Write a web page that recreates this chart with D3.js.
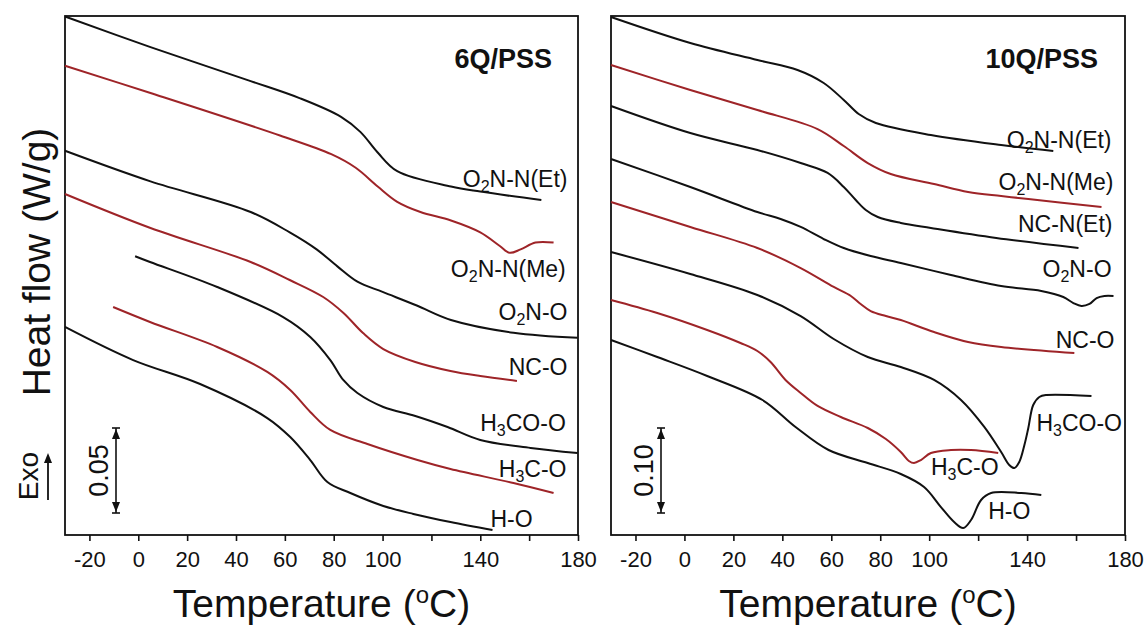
<!DOCTYPE html>
<html>
<head>
<meta charset="utf-8">
<script src="https://cdn.jsdelivr.net/npm/d3@7"></script>
<style>
  body { margin: 0; background: #fff; }
</style>
</head>
<body>
<script>
const font = "'Liberation Sans', Arial, sans-serif";
const W = 1146, H = 626;
const plotTop = 16, plotBottom = 535;

// x axis (temperature, degC)
const tickVals = [-20, 0, 20, 40, 60, 80, 100, 120, 140, 160, 180];
const tickText = ["-20", "0", "20", "40", "60", "80", "100", "", "140", "", "180"];

// heat flow curves, [T (degC), heat flow (mW/g, offset stacked as in figure)]
// 6Q/PSS
const q6_O2N_NEt = [[-30,305],[5,287],[46,267],[66,257],[83,246],[91,237],[98,225],[106,214],[128,205],[140,202],[165,197]];
const q6_O2N_NMe = [[-30,276],[5,260],[58,235],[79,224],[89,216],[98,205],[106,196],[115.5,190],[128,185],[140,178],[148,170],[152,166],[156.5,168],[162.6,172],[170,172]];
const q6_O2N_O = [[-30,226],[5,208],[46,190],[62,178],[73,168],[81.5,158],[89.7,149],[100,143],[114,135],[128,126.5],[153.6,119],[179.8,116]];
const q6_NC_O = [[-30,200.6],[5,180.6],[46,160.6],[62,150],[75.7,140],[84,130.6],[92,118.8],[100.3,109.4],[113.4,101.8],[127.8,96.5],[140,93.5],[155,90.6]];
const q6_H3CO_O = [[-1.3,164],[4.8,160.6],[32.3,145.9],[59.3,128.2],[70.4,116.5],[78.6,102.9],[83.9,91.2],[89.7,83.5],[100.3,75.3],[113.4,70],[126.6,63.5],[140,55.9],[160.6,51.2],[179.8,48.2]];
const q6_H3C_O = [[-10.3,134.1],[4.8,125.3],[32.3,110.6],[52.8,95.9],[62.2,85.3],[70.4,72.4],[78.6,61.8],[93.8,53.5],[114.3,44.1],[127.8,38.8],[153.6,30.6],[170,24.7]];
const q6_H_O = [[-30,122.4],[-2.1,102.9],[25.3,88.8],[52.8,68.8],[62.2,57.6],[70.4,44.1],[77.4,31.2],[86.8,24.7],[100.3,17.1],[112.6,12.4],[127.8,7.6],[145,2.9]];

// 10Q/PSS
const q10_O2N_NEt = [[-30,609.4],[2.4,578.8],[29.8,558.8],[46.2,547.1],[56.9,531.8],[65.1,511.8],[71.2,495.3],[78.2,484.7],[100.7,470.6],[129.4,458.8],[150.7,451.8]];
const q10_O2N_NMe = [[-30,552.9],[2.4,523.5],[29.8,500],[54.4,477.6],[65.1,457.6],[74.9,437.6],[84.3,424.7],[102,412.9],[115.9,403.5],[129.4,398.8],[140.5,395.3],[170.4,385.9]];
const q10_NC_NEt = [[-30,504.7],[2.4,472.9],[29.8,452.9],[47.5,437.6],[58.5,425.9],[65.1,409.4],[70,394.1],[74.1,382.4],[79,374.1],[88.4,367.1],[100.7,361.2],[127.4,349.4],[161,337.6]];
const q10_O2N_O = [[-30,442.4],[2.4,409.4],[29.8,380],[39.3,371.8],[47.5,362.4],[56.9,348.2],[65.1,337.6],[76.1,328.2],[88.4,320],[108.9,305.9],[129.4,292.9],[145.8,287.1],[154.8,280],[158.9,272.9],[162.2,269.4],[165.5,271.8],[168.4,278.8],[171.6,281.2],[175.3,281.2]];
const q10_NC_O = [[-30,391.8],[2.4,362.4],[29.8,337.6],[47.5,314.1],[61,291.8],[68,281.2],[72,271.8],[76.1,263.5],[82.3,257.6],[88.4,252.9],[102,238.8],[115.9,227.1],[129.4,221.2],[159.3,214.1]];
const q10_H3CO_O = [[-30,332.9],[2.4,307.1],[29.8,282.4],[47.5,257.6],[61,230.6],[74.9,209.4],[88.4,197.6],[102,182.4],[113,158.8],[122.5,127.1],[129.4,97.6],[132.7,82.4],[134.8,78.8],[136.8,85.9],[138.9,105.9],[140.5,125.9],[142.5,152.9],[145,162.4],[147.9,164.7],[166.3,163.5]];
const q10_H3C_O = [[-30,276.5],[-11.1,261.2],[9.3,241.2],[22.9,225.9],[29.8,216.5],[35.2,203.5],[41.3,182.4],[47.5,167.1],[54.4,151.8],[63.9,138.8],[74.9,125.9],[82.3,112.9],[88.4,97.6],[91.7,87.1],[93.8,84.7],[96.6,88.2],[100.7,96.5],[108.9,100],[117.1,100],[128.2,96.5]];
const q10_H_O = [[-30,229.4],[-11.1,209.4],[9.3,187.1],[31.9,158.8],[45.4,127.1],[58.9,100],[74.9,84.7],[88.4,71.8],[97.9,56.5],[104.8,32.9],[110.2,15.3],[113.9,8.2],[117.1,17.6],[121.2,41.2],[125.3,49.4],[137.6,49.4],[145.8,47.1]];

// curve labels ("_" marks a subscript digit), placed at [T, heat flow]
const q6Names = ["O_2N-N(Et)", "O_2N-N(Me)", "O_2N-O", "NC-O", "H_3CO-O", "H_3C-O", "H-O"];
const q6LabelAt = [[175.7,205],[175,152],[175.7,126.5],[175.7,94],[175,61],[175.3,34],[161.4,4.7]];
const q6Anchor = ["end", "end", "end", "end", "end", "end", "end"];

const q10Names = ["O_2N-N(Et)", "O_2N-N(Me)", "NC-N(Et)", "O_2N-O", "NC-O", "H_3CO-O", "H_3C-O", "H-O"];
const q10LabelAt = [[174.5,455.3],[175.3,405.9],[174.9,356.5],[174.5,303.5],[175.7,220],[143.8,122.4],[100.7,70.6],[124.1,18.8]];
const q10Anchor = ["end", "end", "end", "end", "end", "start", "start", "start"];

const black = "#111", red = "#9e2428";

const svg = d3.select("body")
  .append("svg")
  .attr("width", W)
  .attr("height", H)
  .style("font-family", font);

const panels = [
  { title: "6Q/PSS", x0: 65, x1: 578, titleX: 552, hfMax: 519 / 1.7,
    curves: [q6_O2N_NEt, q6_O2N_NMe, q6_O2N_O, q6_NC_O, q6_H3CO_O, q6_H3C_O, q6_H_O],
    colors: [black, red, black, red, black, red, black],
    names: q6Names, labelAt: q6LabelAt, anchor: q6Anchor,
    bar: 50, barText: "0.05", barX: 116, exo: true },
  { title: "10Q/PSS", x0: 611, x1: 1125, titleX: 1098, hfMax: 519 / 0.85,
    curves: [q10_O2N_NEt, q10_O2N_NMe, q10_NC_NEt, q10_O2N_O, q10_NC_O, q10_H3CO_O, q10_H3C_O, q10_H_O],
    colors: [black, red, black, black, red, black, red, black],
    names: q10Names, labelAt: q10LabelAt, anchor: q10Anchor,
    bar: 100, barText: "0.10", barX: 661, exo: false }
];

// text with subscript digits
function richText(sel, str) {
  const parts = str.split(/_(\d)/);
  parts.forEach((p, i) => {
    if (i % 2 === 1) {
      sel.append("tspan").attr("font-size", "16px").attr("dy", 5).text(p);
    } else if (p) {
      sel.append("tspan").attr("dy", i ? -5 : 0).text(p);
    }
  });
}

function arrowHead(g, x, yTip, dir) {
  // dir = -1 points up, +1 points down
  g.append("path")
    .attr("d", `M${x},${yTip} L${x - 4},${yTip - dir * 10} L${x + 4},${yTip - dir * 10} Z`)
    .attr("fill", black);
}

panels.forEach(drawPanel);

function drawPanel(p) {
  const x = d3.scaleLinear().domain([-30, 180]).range([p.x0, p.x1]);
  const y = d3.scaleLinear().domain([0, p.hfMax]).range([plotBottom, plotTop]);
  const g = svg.append("g");

  g.append("g")
    .attr("transform", `translate(0,${plotBottom})`)
    .call(d3.axisBottom(x).tickValues(tickVals).tickFormat((d, i) => tickText[i]).tickSize(6).tickPadding(10))
    .call(a => a.select(".domain").remove())
    .call(a => a.selectAll("line").attr("stroke", black).attr("stroke-width", 1.6))
    .call(a => a.selectAll("text").attr("font-size", 22).attr("fill", black).attr("font-family", font));

  g.append("rect")
    .attr("x", p.x0).attr("y", plotTop)
    .attr("width", p.x1 - p.x0).attr("height", plotBottom - plotTop)
    .attr("fill", "none").attr("stroke", black).attr("stroke-width", 1.8);

  const line = d3.line()
    .x(d => x(d[0]))
    .y(d => y(d[1]))
    .curve(d3.curveCatmullRom.alpha(0.5));

  g.selectAll(".curve")
    .data(p.curves)
    .join("path")
    .attr("class", "curve")
    .attr("d", line)
    .attr("fill", "none")
    .attr("stroke", (d, i) => p.colors[i])
    .attr("stroke-width", 2)
    .attr("stroke-linejoin", "round");

  // curve labels
  p.names.forEach((name, i) => {
    const t = g.append("text")
      .attr("x", x(p.labelAt[i][0]))
      .attr("y", y(p.labelAt[i][1]))
      .attr("text-anchor", p.anchor[i])
      .attr("font-size", 23)
      .attr("fill", black);
    richText(t, name);
  });

  // panel title
  g.append("text")
    .attr("x", p.titleX).attr("y", 68)
    .attr("text-anchor", "end")
    .attr("font-size", 27).attr("font-weight", "bold")
    .attr("fill", black)
    .text(p.title);

  // x title
  const xt = g.append("text")
    .attr("x", (p.x0 + p.x1) / 2).attr("y", 617)
    .attr("text-anchor", "middle")
    .attr("font-size", 39).attr("fill", black);
  xt.append("tspan").text("Temperature (");
  xt.append("tspan").attr("font-size", 24).attr("dy", -14).text("o");
  xt.append("tspan").attr("dy", 14).text("C)");

  // scale bar
  const barLen = y(0) - y(p.bar);
  const b0 = 513, b1 = b0 - barLen;
  g.append("line").attr("x1", p.barX).attr("x2", p.barX).attr("y1", b0).attr("y2", b1)
    .attr("stroke", black).attr("stroke-width", 1.6);
  [b0, b1].forEach(v => g.append("line")
    .attr("x1", p.barX - 4).attr("x2", p.barX + 4).attr("y1", v).attr("y2", v)
    .attr("stroke", black).attr("stroke-width", 1.6));
  arrowHead(g, p.barX, b1 + 1, -1);
  arrowHead(g, p.barX, b0 - 1, 1);
  g.append("text")
    .attr("transform", `translate(${p.barX - 8},${(b0 + b1) / 2}) rotate(-90)`)
    .attr("text-anchor", "middle")
    .attr("font-size", 27).attr("fill", black)
    .text(p.barText);

  if (p.exo) {
    g.append("text")
      .attr("transform", "translate(38,476) rotate(-90)")
      .attr("text-anchor", "middle")
      .attr("font-size", 28).attr("fill", black)
      .text("Exo");
    g.append("line").attr("x1", 48).attr("x2", 48).attr("y1", 500).attr("y2", 460)
      .attr("stroke", black).attr("stroke-width", 1.8);
    arrowHead(g, 48, 453, -1);
  }
}

// y title
svg.append("text")
  .attr("transform", "translate(50,262) rotate(-90)")
  .attr("text-anchor", "middle")
  .attr("font-size", 39)
  .attr("fill", black)
  .text("Heat flow (W/g)");
</script>
</body>
</html>
